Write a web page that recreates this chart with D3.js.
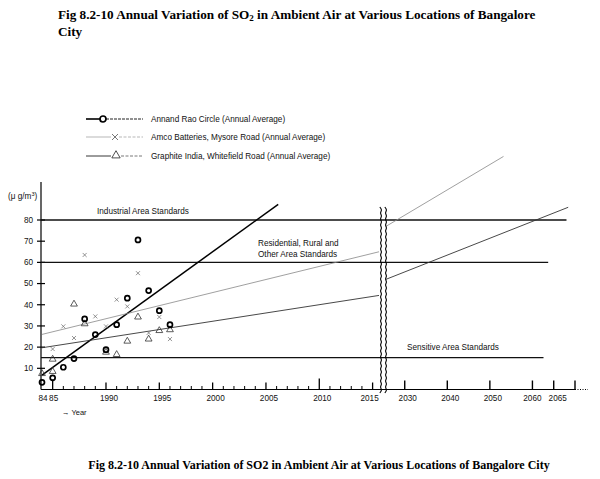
<!DOCTYPE html>
<html>
<head>
<meta charset="utf-8">
<script src="https://cdn.jsdelivr.net/npm/d3@7"></script>
<style>
  body { margin: 0; background: #fff; }
  svg { display: block; }
  .lbl { font-family: "Liberation Sans", Arial, sans-serif; font-size: 8.2px; fill: #111; }
  .ttl { font-family: "Liberation Serif", "Times New Roman", serif; font-weight: bold; fill: #000; }
</style>
</head>
<body>
<svg class="chart" width="600" height="479"></svg>
<script>
// values (ug/m3)
var annandYears  = [1984, 1985, 1986, 1987, 1988, 1989, 1990, 1991, 1992, 1993, 1994, 1995, 1996];
var annandValues = [3.4, 5.5, 10.5, 14.6, 33.3, 25.9, 18.8, 30.6, 43.1, 70.6, 46.7, 37.2, 30.6];

var amcoYears  = [1985, 1986, 1987, 1988, 1989, 1990, 1991, 1992, 1993, 1994, 1995, 1996];
var amcoValues = [19.1, 29.8, 24.3, 63.5, 34.5, 29.8, 42.4, 39.2, 54.9, 26.7, 34.2, 23.8];

var graphiteYears  = [1984, 1985, 1985, 1987, 1988, 1990, 1991, 1992, 1993, 1994, 1995, 1996];
var graphiteValues = [7.5, 8.5, 14.3, 40.3, 31, 17.6, 16.5, 22.8, 34.2, 23.8, 27.8, 28.2];

// trend lines (two pieces each side of the axis break)
var annandTrendYears  = [1984, 2006.15];
var annandTrendValues = [6.8, 87.4];
var amcoTrendYears  = [[1984, 2015.6], [2025.6, 2053.2]];
var amcoTrendValues = [[26, 65], [77, 110]];
var graphiteTrendYears  = [[1984, 2015.6], [2025.6, 2068.4]];
var graphiteTrendValues = [[19.7, 44.4], [52, 86]];

// standards
var standardValues = [80, 60, 15];
var standardEnds = [2068, 2063.7, 2062.6];

var yTicks = [10, 20, 30, 40, 50, 60, 70, 80];
var xLabelYears = [1984, 1985, 1990, 1995, 2000, 2005, 2010, 2015, 2030, 2040, 2050, 2060, 2065];
var xLabelText  = ["84", "85", "1990", "1995", "2000", "2005", "2010", "2015", "2030", "2040", "2050", "2060", "2065"];
var farTicks = [2030, 2040, 2050, 2060, 2065, 2070];

var legendNames = ["Annand Rao Circle (Annual Average)",
                   "Amco Batteries, Mysore Road (Annual Average)",
                   "Graphite India, Whitefield Road (Annual Average)"];

var svg = d3.select(".chart");
svg.append("rect").attr("width", 600).attr("height", 479).attr("fill", "#fff");

// broken year axis: piecewise scale, squeezed after the break
var x = d3.scaleLinear()
    .domain([1984, 2015.6, 2025.6, 2070])
    .range([42, 379, 386, 575]);
var y = d3.scaleLinear()
    .domain([0, 80])
    .range([389.5, 220]);

// title
var t = svg.append("text").attr("class", "ttl").attr("x", 58).attr("y", 19).style("font-size", "13.2px");
t.append("tspan").text("Fig 8.2-10 Annual Variation of SO");
t.append("tspan").attr("baseline-shift", "-25%").style("font-size", "9px").text("2");
t.append("tspan").text(" in Ambient Air at Various Locations of Bangalore");
svg.append("text").attr("class", "ttl").attr("x", 58).attr("y", 36).style("font-size", "13.2px").text("City");

// legend
var leg = svg.append("g");
var legY = [119, 137, 156];
legendNames.forEach(function(name, i) {
  var g = leg.append("g").attr("transform", "translate(0," + legY[i] + ")");
  if (i == 0) {
    g.append("line").attr("x1", 86).attr("x2", 100).attr("stroke", "#000").attr("stroke-width", 1.6);
    g.append("line").attr("x1", 106).attr("x2", 143).attr("stroke", "#222").attr("stroke-width", 1).attr("stroke-dasharray", "3,1");
    g.append("circle").attr("cx", 103).attr("r", 3).attr("fill", "none").attr("stroke", "#000").attr("stroke-width", 1.7);
  } else if (i == 1) {
    g.append("line").attr("x1", 86).attr("x2", 111).attr("stroke", "#999").attr("stroke-width", 0.7);
    g.append("line").attr("x1", 119).attr("x2", 143).attr("stroke", "#999").attr("stroke-width", 0.7).attr("stroke-dasharray", "3,1.5");
    g.append("path").attr("d", "M112,-3L118,3M112,3L118,-3").attr("stroke", "#555").attr("stroke-width", 0.8);
  } else {
    g.append("line").attr("x1", 86).attr("x2", 111).attr("stroke", "#222").attr("stroke-width", 0.9);
    g.append("line").attr("x1", 121).attr("x2", 143).attr("stroke", "#555").attr("stroke-width", 0.8).attr("stroke-dasharray", "3,1.5");
    g.append("path").attr("d", d3.symbol(d3.symbolTriangle, 30)()).attr("transform", "translate(116,-0.5)")
      .attr("fill", "none").attr("stroke", "#222").attr("stroke-width", 0.8);
  }
  g.append("text").attr("class", "lbl").attr("x", 151).attr("y", 2.9).text(name);
});

// y axis
svg.append("line").attr("x1", 41).attr("x2", 41).attr("y1", 182).attr("y2", y(0))
  .attr("stroke", "#000").attr("stroke-width", 1.2);
svg.selectAll(".ytick").data(yTicks).enter().append("line")
  .attr("x1", 37).attr("x2", 45)
  .attr("y1", function(d) { return y(d); }).attr("y2", function(d) { return y(d); })
  .attr("stroke", "#000").attr("stroke-width", 1.2);
svg.selectAll(".ylab").data(yTicks).enter().append("text")
  .attr("class", "lbl").attr("text-anchor", "end")
  .attr("x", 33).attr("y", function(d) { return y(d) + 2.9; })
  .text(function(d) { return d; });
var yl = svg.append("text").attr("class", "lbl").attr("x", 8).attr("y", 199);
yl.append("tspan").text("(\u03bc g/m");
yl.append("tspan").attr("baseline-shift", "super").style("font-size", "5.5px").text("3");
yl.append("tspan").text(")");

// x axis
svg.append("line").attr("x1", 41).attr("x2", x(2070)).attr("y1", y(0)).attr("y2", y(0))
  .attr("stroke", "#000").attr("stroke-width", 1.2);
svg.append("line").attr("x1", x(2070)).attr("x2", 588).attr("y1", y(0)).attr("y2", y(0))
  .attr("stroke", "#000").attr("stroke-width", 1).attr("stroke-dasharray", "1,1.5");

var nearTicks = d3.range(1985, 2016);
svg.selectAll(".xtick").data(nearTicks).enter().append("line")
  .attr("x1", function(d) { return x(d); }).attr("x2", function(d) { return x(d); })
  .attr("y1", y(0))
  .attr("y2", function(d) {
    if (d == 1985) return y(0) - 10;
    if (d == 2010) return y(0) - 11;
    if (d % 5 == 0) return y(0) - 7;
    return y(0) - 3.5;
  })
  .attr("stroke", "#000").attr("stroke-width", function(d) { return d % 5 == 0 ? 1.3 : 1; });
svg.selectAll(".xfar").data(farTicks).enter().append("line")
  .attr("x1", function(d) { return x(d); }).attr("x2", function(d) { return x(d); })
  .attr("y1", y(0)).attr("y2", y(0) - 9)
  .attr("stroke", "#000").attr("stroke-width", 1.4);
svg.selectAll(".xlab").data(xLabelYears).enter().append("text")
  .attr("class", "lbl").attr("text-anchor", "middle")
  .attr("x", function(d) {
    if (d < 1990) return x(d) + 1;
    if (d == 2015) return x(d) - 3;
    if (d == 2060) return x(d);
    if (d == 2065) return x(d) + 4;
    return x(d) + 3;
  })
  .attr("y", 401)
  .text(function(d, i) { return xLabelText[i]; });
svg.append("text").attr("class", "lbl").attr("x", 62).attr("y", 415).text("\u2192 Year").style("font-size", "7.5px");

// standards
svg.selectAll(".std").data(standardValues).enter().append("line")
  .attr("x1", 41).attr("x2", function(d, i) { return x(standardEnds[i]); })
  .attr("y1", function(d) { return y(d); }).attr("y2", function(d) { return y(d); })
  .attr("stroke", "#111").attr("stroke-width", 1.3);
svg.append("text").attr("class", "lbl").attr("x", 97).attr("y", 214).text("Industrial Area Standards");
svg.append("text").attr("class", "lbl").attr("x", 258).attr("y", 246).text("Residential, Rural and");
svg.append("text").attr("class", "lbl").attr("x", 258).attr("y", 257).text("Other Area Standards");
svg.append("text").attr("class", "lbl").attr("x", 407).attr("y", 349.5).text("Sensitive Area Standards");

// trend lines
var line = d3.line().x(function(d) { return x(d[0]); }).y(function(d) { return y(d[1]); });
svg.append("path").datum(d3.zip(annandTrendYears, annandTrendValues))
  .attr("d", line).attr("fill", "none").attr("stroke", "#000").attr("stroke-width", 1.5);
amcoTrendYears.forEach(function(ys, i) {
  svg.append("path").datum(d3.zip(ys, amcoTrendValues[i]))
    .attr("d", line).attr("fill", "none").attr("stroke", "#888").attr("stroke-width", 0.8);
});
graphiteTrendYears.forEach(function(ys, i) {
  svg.append("path").datum(d3.zip(ys, graphiteTrendValues[i]))
    .attr("d", line).attr("fill", "none").attr("stroke", "#333").attr("stroke-width", 0.9);
});

// axis break: two wavy lines
var wave = [];
for (var yy = 207; yy <= 393; yy += 3) wave.push([((yy - 207) / 3) % 2 ? 1.2 : -1.2, yy]);
[381, 386].forEach(function(bx) {
  svg.append("path").datum(wave)
    .attr("d", d3.line().x(function(d) { return bx + d[0]; }).y(function(d) { return d[1]; }).curve(d3.curveBasis))
    .attr("fill", "none").attr("stroke", "#000").attr("stroke-width", 1.1);
});

// points
svg.selectAll(".tri").data(d3.zip(graphiteYears, graphiteValues)).enter().append("path")
  .attr("d", d3.symbol(d3.symbolTriangle, 20)())
  .attr("transform", function(d) { return "translate(" + x(d[0]) + "," + y(d[1]) + ")"; })
  .attr("fill", "none").attr("stroke", "#333").attr("stroke-width", 0.8);
svg.selectAll(".crs").data(d3.zip(amcoYears, amcoValues)).enter().append("path")
  .attr("d", "M-2,-2L2,2M-2,2L2,-2")
  .attr("transform", function(d) { return "translate(" + x(d[0]) + "," + y(d[1]) + ")"; })
  .attr("stroke", "#666").attr("stroke-width", 0.7);
svg.selectAll(".circ").data(d3.zip(annandYears, annandValues)).enter().append("circle")
  .attr("cx", function(d) { return x(d[0]); }).attr("cy", function(d) { return y(d[1]); })
  .attr("r", 2.5).attr("fill", "none").attr("stroke", "#000").attr("stroke-width", 1.7);

// caption
svg.append("text").attr("class", "ttl").attr("x", 319).attr("y", 469)
  .attr("text-anchor", "middle").style("font-size", "12px")
  .text("Fig 8.2-10 Annual Variation of SO2 in Ambient Air at Various Locations of Bangalore City");
</script>
</body>
</html>
